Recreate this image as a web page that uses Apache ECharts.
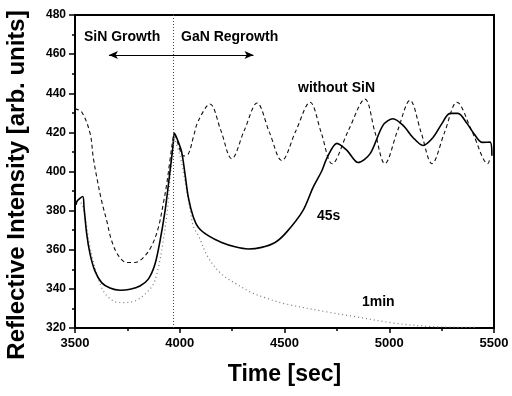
<!DOCTYPE html>
<html>
<head>
<meta charset="utf-8">
<script src="https://cdn.jsdelivr.net/npm/echarts@6/dist/echarts.min.js"></script>
<style>html,body{margin:0;padding:0;background:#fff}#c{width:512px;height:396px}</style>
</head>
<body>
<div id="c"></div>
<script>
// ---- data ----
var xTicks = [3500, 4000, 4500, 5000, 5500];
var yTicks = [320, 340, 360, 380, 400, 420, 440, 460, 480];

// without SiN (dashed)
var noSiNTime = [3500, 3532, 3572, 3587, 3604, 3627, 3651, 3675, 3707, 3747, 3786, 3826, 3866, 3898, 3921, 3938, 3953, 3969, 3975, 3992, 4017, 4041, 4065, 4089, 4144, 4196, 4248, 4308, 4369, 4428, 4487, 4555, 4622, 4675, 4727, 4805, 4884, 4932, 4979, 5040, 5099, 5152, 5204, 5264, 5323, 5397, 5471, 5481];
var noSiNValue = [432, 430.4, 419.5, 407.3, 397, 385, 375, 364.6, 357, 353.5, 353.5, 356, 362, 371.4, 383.4, 393.7, 405.6, 417.6, 419, 414, 408, 409, 417.6, 426, 434.5, 421, 406.5, 421, 435, 420, 405.6, 421, 435.4, 420, 404, 421, 437, 420, 404, 421, 436.4, 420, 404, 420, 435.4, 420, 404, 407];

// 45s SiN (solid)
var s45Time = [3505, 3511, 3537, 3543, 3556, 3572, 3595, 3627, 3667, 3715, 3763, 3810, 3850, 3882, 3906, 3930, 3950, 3969, 3974, 3990, 4009, 4025, 4041, 4065, 4089, 4136, 4200, 4264, 4327, 4391, 4455, 4510, 4588, 4636, 4679, 4703, 4750, 4798, 4851, 4908, 4970, 5018, 5066, 5113, 5161, 5209, 5252, 5290, 5328, 5371, 5400, 5443, 5481, 5490];
var s45Value = [383, 385, 387.2, 381.7, 368, 357.8, 349.2, 343.2, 340.4, 339.3, 339.8, 341.5, 345, 352.7, 364.6, 380, 397, 414.2, 419.6, 416, 410, 398.8, 386.8, 376.6, 371.4, 367.2, 363.7, 361.5, 360.4, 361.2, 363.7, 369, 380, 391.8, 400.5, 407, 414.4, 410.8, 404.6, 409, 423.6, 427, 423.6, 417.4, 413.3, 417.4, 424.6, 429.7, 429.7, 424.6, 420, 414.9, 415, 408];

// 1min SiN (dotted)
var m1Time = [3510, 3532, 3548, 3572, 3604, 3635, 3683, 3731, 3786, 3834, 3874, 3898, 3921, 3941, 3953, 3962, 3973, 3990, 4010, 4030, 4050, 4065, 4089, 4136, 4200, 4272, 4343, 4407, 4502, 4703, 4827, 5018, 5209, 5420];
var m1Value = [385, 383.4, 376.6, 361.2, 347.5, 339, 333.8, 333, 333.8, 337.3, 342.4, 351, 364.6, 380, 395.4, 405.6, 417, 412, 404, 392, 380, 372, 367.2, 356, 347.5, 342.4, 338.1, 335.5, 332.4, 328.2, 326, 322.6, 320.7, 320.3];

// growth boundary and arrow
var boundaryTime = 3970;
var arrowTime = [3662, 4352];
var arrowValue = 459.5;

var labels = ['SiN Growth', 'GaN Regrowth', 'without SiN', '45s', '1min'];
var xTitle = 'Time [sec]';
var yTitle = 'Reflective Intensity [arb. units]';

function zip(a, b) { return a.map(function (v, i) { return [v, b[i]]; }); }

var FONT = 'Liberation Sans';
var chart = echarts.init(document.getElementById('c'), null, {renderer: 'canvas'});
chart.setOption({
  animation: false,
  backgroundColor: '#fff',
  grid: {left: 75, right: 18, top: 15, bottom: 68, show: true, borderColor: '#000', borderWidth: 2, backgroundColor: 'transparent'},
  xAxis: {
    type: 'value', min: xTicks[0], max: xTicks[xTicks.length - 1], interval: 500,
    axisLine: {show: true, lineStyle: {color: '#000', width: 2}},
    axisTick: {show: true, inside: false, length: 5, lineStyle: {color: '#000', width: 1.5}},
    minorTick: {show: true, splitNumber: 2, length: 3, lineStyle: {color: '#000', width: 1.5}},
    splitLine: {show: false},
    axisLabel: {margin: 9, color: '#000', fontFamily: FONT, fontWeight: 'bold', fontSize: 13,
      formatter: function (v) { return String(v); }},
    name: xTitle, nameLocation: 'middle', nameGap: 35,
    nameTextStyle: {color: '#000', fontFamily: FONT, fontWeight: 'bold', fontSize: 23}
  },
  yAxis: {
    type: 'value', min: yTicks[0], max: yTicks[yTicks.length - 1], interval: 20,
    axisLine: {show: true, lineStyle: {color: '#000', width: 2}},
    axisTick: {show: true, inside: false, length: 6, lineStyle: {color: '#000', width: 1.5}},
    minorTick: {show: true, splitNumber: 2, length: 3, lineStyle: {color: '#000', width: 1.5}},
    splitLine: {show: false},
    axisLabel: {margin: 9, color: '#000', fontFamily: FONT, fontWeight: 'bold', fontSize: 12,
      formatter: function (v) { return String(v); }}
  },
  series: [
    {
      type: 'line', name: 'without SiN', data: zip(noSiNTime, noSiNValue), showSymbol: false, smooth: 0.35,
      lineStyle: {color: '#111', width: 1.1, type: [4, 3]}, z: 3
    },
    {
      type: 'line', name: '45s', data: zip(s45Time, s45Value), showSymbol: false, smooth: 0.3,
      lineStyle: {color: '#000', width: 1.6}, z: 4,
      markLine: {
        silent: true, animation: false, symbol: ['arrow', 'arrow'], symbolSize: [6, 9],
        label: {show: false},
        lineStyle: {color: '#000', width: 1, type: 'solid'},
        data: [[{coord: [arrowTime[0], arrowValue]}, {coord: [arrowTime[1], arrowValue]}]]
      }
    },
    {
      type: 'line', name: '1min', data: zip(m1Time, m1Value), showSymbol: false, smooth: 0.35,
      lineStyle: {color: '#777', width: 1.2, type: [1, 3]}, z: 2,
      markLine: {
        silent: true, animation: false, symbol: ['none', 'none'], label: {show: false},
        lineStyle: {color: '#444', width: 1, type: [1, 2]},
        data: [{xAxis: boundaryTime}]
      }
    }
  ],
  graphic: [
    {type: 'text', left: 84, top: 30, style: {text: labels[0], fill: '#000', font: 'bold 14px "Liberation Sans"'}},
    {type: 'text', left: 181, top: 30, style: {text: labels[1], fill: '#000', font: 'bold 14px "Liberation Sans"'}},
    {type: 'text', left: 298, top: 81, style: {text: labels[2], fill: '#000', font: 'bold 14px "Liberation Sans"'}},
    {type: 'text', left: 317, top: 209, style: {text: labels[3], fill: '#000', font: 'bold 14px "Liberation Sans"'}},
    {type: 'text', left: 362, top: 295, style: {text: labels[4], fill: '#000', font: 'bold 14px "Liberation Sans"'}},
    {type: 'text', x: 17, y: 185, rotation: Math.PI / 2,
     style: {text: yTitle, fill: '#000', font: 'bold 24px "Liberation Sans"', textAlign: 'center', textVerticalAlign: 'middle'}}
  ]
});
</script>
</body>
</html>
